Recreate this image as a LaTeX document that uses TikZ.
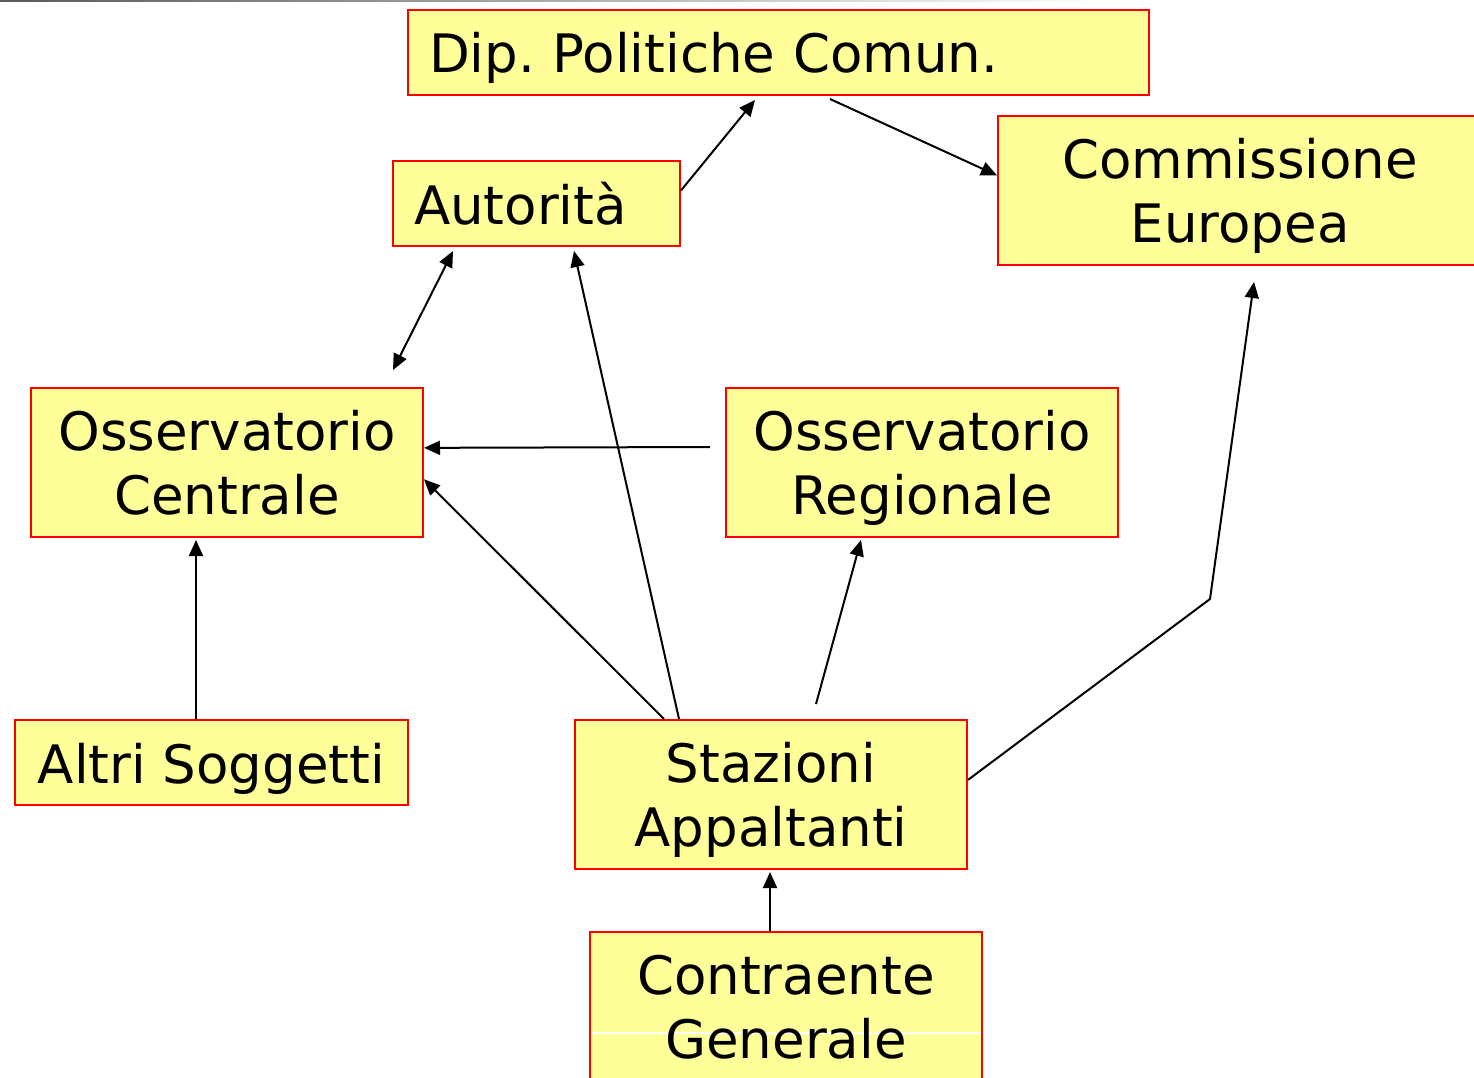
\documentclass[tikz,border=0pt]{standalone}
\usepackage{fontspec}
\setmainfont{DejaVu Sans}
\frenchspacing
\usetikzlibrary{arrows.meta,calc}
\definecolor{boxyellow}{RGB}{255,255,153}
\begin{document}
\begin{tikzpicture}[x=1pt,y=-1pt,
  box/.style={draw=red, line width=2pt, fill=boxyellow, anchor=north west,
    inner sep=0pt, align=center, font=\fontsize{53}{64}\selectfont},
  oneline/.style={minimum height=85pt, text height=41pt, text depth=0pt},
  twoline/.style={minimum height=149pt, text height=103pt, text depth=0pt},
  arr/.style={line width=2pt, -{Triangle[length=16pt,width=14pt]}},
  darr/.style={line width=2pt, {Triangle[length=16pt,width=14pt]}-{Triangle[length=16pt,width=14pt]}}]
\useasboundingbox (0,0) rectangle (1474,1078);
\clip (0,0) rectangle (1474,1078);
\shade[left color=black!65, right color=white] (0,0) rectangle (1100,2);
% boxes
\node[box, oneline, minimum width=741pt, inner xsep=21pt, text width=699pt, align=left] (dip) at (407,9) {Dip. Politiche Comun.};
\node[box, oneline, minimum width=287pt, inner xsep=21pt, text width=245pt, align=left] (aut) at (392,160) {Autorità};
\node[box, twoline, minimum width=484pt] (com) at (997,115) {Commissione\\Europea};
\node[box, twoline, minimum width=392pt] (oc) at (30,387) {Osservatorio\\Centrale};
\node[box, twoline, minimum width=392pt] (orr) at (725,387) {Osservatorio\\Regionale};
\node[box, oneline, minimum width=393pt] (alt) at (14,719) {Altri Soggetti};
\node[box, twoline, minimum width=392pt] (sta) at (574,719) {Stazioni\\Appaltanti};
\node[box, twoline, minimum width=392pt,
  path picture={\draw[white,line width=1.2pt] ([yshift=-101pt]path picture bounding box.north west) -- ([yshift=-101pt]path picture bounding box.north east);}] (cg) at (589,931) {Contraente\\Generale};
% free ends
\coordinate (e1) at (755,100);
\coordinate (s2) at (830,99);
\coordinate (d1) at (453,251);
\coordinate (d2) at (393,370);
\coordinate (e4) at (574,251);
\coordinate (s5) at (710,447);
\coordinate (s7) at (816,704);
\coordinate (e7) at (861,540);
\coordinate (b8) at (1210,599);
\coordinate (e8) at (1254,282);
\coordinate (e9) at (196,540);
\coordinate (e10) at (770,872);
% connectors
\draw[arr] ($(aut.north east)!0.35!(aut.south east)$) -- (e1);
\draw[arr] (s2) -- ($(com.north west)!0.40!(com.south west)$);
\draw[darr] (d1) -- (d2);
\draw[arr] ([xshift=105pt]sta.north west) -- (e4);
\draw[arr] (s5) -- ($(oc.north east)!0.403!(oc.south east)$);
\draw[arr] ([xshift=90pt]sta.north west) -- ($(oc.north east)!0.611!(oc.south east)$);
\draw[arr] (s7) -- (e7);
\draw[arr] ($(sta.north east)!0.403!(sta.south east)$) -- (b8) -- (e8);
\draw[arr] ([xshift=182pt]alt.north west) -- (e9);
\draw[arr] ([xshift=181pt]cg.north west) -- (e10);
\end{tikzpicture}
\end{document}
